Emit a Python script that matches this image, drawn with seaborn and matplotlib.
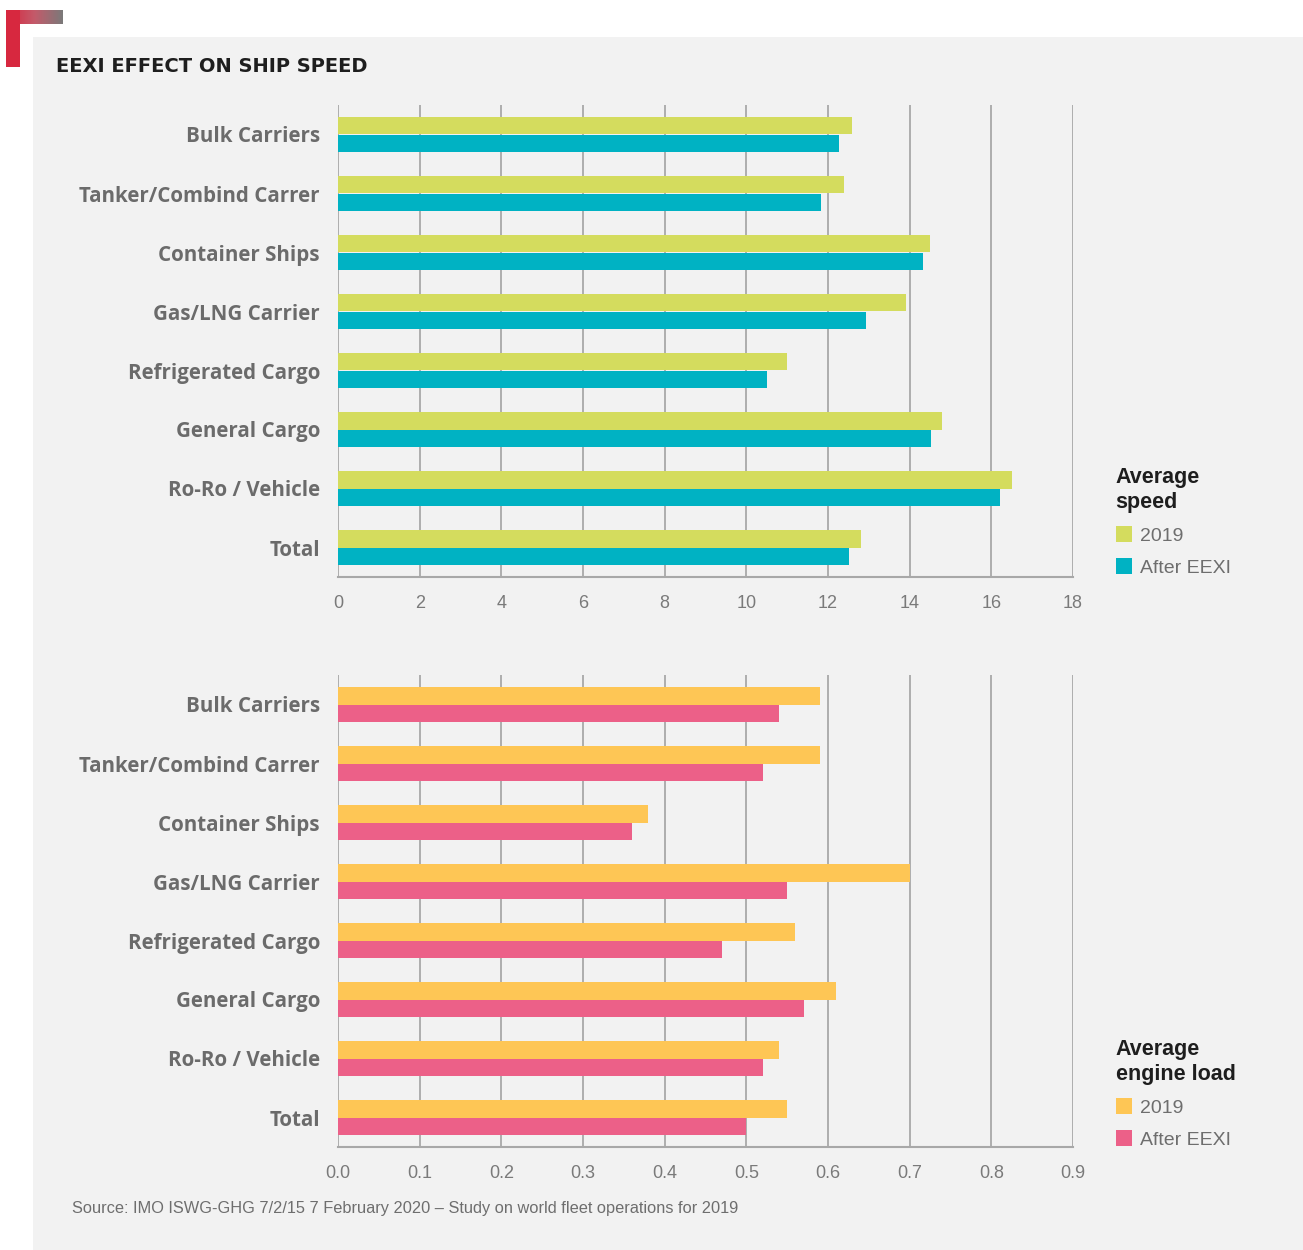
import matplotlib
matplotlib.use("Agg")
import matplotlib.pyplot as plt
import seaborn as sns
import pandas as pd
import numpy as np
from matplotlib.patches import Rectangle, Patch
from matplotlib.ticker import FormatStrFormatter
from matplotlib.colors import LinearSegmentedColormap

categories = ["Bulk Carriers", "Tanker/Combind Carrer", "Container Ships", "Gas/LNG Carrier",
              "Refrigerated Cargo", "General Cargo", "Ro-Ro / Vehicle", "Total"]
series = ["2019", "After EEXI"]
speed_2019 = [12.6, 12.4, 14.5, 13.9, 11.0, 14.8, 16.5, 12.8]
speed_after = [12.27, 11.83, 14.32, 12.93, 10.5, 14.52, 16.21, 12.52]
load_2019 = [0.59, 0.59, 0.38, 0.70, 0.56, 0.61, 0.54, 0.55]
load_after = [0.54, 0.52, 0.36, 0.55, 0.47, 0.57, 0.52, 0.50]
speed_ticks = [0, 2, 4, 6, 8, 10, 12, 14, 16, 18]
load_ticks = [0.0, 0.1, 0.2, 0.3, 0.4, 0.5, 0.6, 0.7, 0.8, 0.9]

title = "EEXI EFFECT ON SHIP SPEED"
source = "Source: IMO ISWG-GHG 7/2/15 7 February 2020 \u2013 Study on world fleet operations for 2019"

sns.set_theme(style="white")
plt.rcParams['font.family'] = ['Liberation Sans', 'DejaVu Sans']

W, H = 1303, 1250
fig = plt.figure(figsize=(W / 100, H / 100), dpi=100)
fig.patch.set_facecolor("white")


def px(x0, y0, x1, y1):
    return [x0 / W, 1 - y1 / H, (x1 - x0) / W, (y1 - y0) / H]


# gray panel
fig.patches.append(Rectangle((33 / W, 0), (W - 33) / W, (H - 37) / H,
                             transform=fig.transFigure, facecolor="#f2f2f2",
                             edgecolor="none", zorder=-10))
# corner mark
cax = fig.add_axes(px(6, 10, 63, 24))
grad = np.linspace(0, 1, 256)[None, :]
cmap = LinearSegmentedColormap.from_list("c", ["#d7263f", "#c45a6a", "#7a7a7a"])
cax.imshow(grad, aspect="auto", cmap=cmap)
cax.axis("off")
fig.patches.append(Rectangle((6 / W, 1 - 67 / H), 14 / W, 57 / H,
                             transform=fig.transFigure, facecolor="#d7283f",
                             edgecolor="none", zorder=1))

fig.text(56 / W, 1 - 67 / H, title, fontsize=14, fontweight="bold",
         family=["DejaVu Sans"], color="#1e1e1e", va="center", ha="left")

grid_c = "#a8a8a8"
label_c = "#6b6b6b"
tick_c = "#7a7a7a"


def make_panel(rect, v19, vaf, colors, ticks, xmax, fmt, leg_title, leg_y):
    ax = fig.add_axes(rect)
    df = pd.DataFrame({
        "category": categories * 2,
        "value": v19 + vaf,
        "series": [series[0]] * len(categories) + [series[1]] * len(categories),
    })
    sns.barplot(data=df, y="category", x="value", hue="series", orient="h",
                palette=colors, width=0.6, ax=ax, legend=False, saturation=1,
                linewidth=0)
    ax.set_facecolor("none")
    ax.set_xlim(0, xmax)
    ax.set_xticks(ticks)
    if fmt:
        ax.xaxis.set_major_formatter(FormatStrFormatter(fmt))
    ax.set_xlabel("")
    ax.set_ylabel("")
    ax.set_axisbelow(True)
    ax.grid(axis="x", color=grid_c, linewidth=1.3)
    ax.grid(axis="y", visible=False)
    for s in ["top", "right", "left"]:
        ax.spines[s].set_visible(False)
    ax.spines["bottom"].set_color(grid_c)
    ax.spines["bottom"].set_linewidth(1.5)
    ax.tick_params(axis="x", length=0, pad=13, labelsize=13, labelcolor=tick_c)
    ax.tick_params(axis="y", length=0, pad=13, labelsize=14.8, labelcolor=label_c)
    for t in ax.get_yticklabels():
        t.set_fontweight("bold")
        t.set_family(["Open Sans", "DejaVu Sans"])
    for t in ax.get_xticklabels():
        t.set_family(["Liberation Sans", "DejaVu Sans"])
    handles = [Patch(facecolor=c, edgecolor="none") for c in colors]
    leg = fig.legend(handles, series, loc="upper left",
                     bbox_to_anchor=(1098 / W, 1 - leg_y / H),
                     bbox_transform=fig.transFigure, frameon=False,
                     title=leg_title, fontsize=14, title_fontproperties={"weight": "bold", "size": 15.5},
                     handlelength=0.85, handleheight=0.85, handletextpad=0.4,
                     labelspacing=0.7)
    leg._legend_box.align = "left"
    for t in leg.get_texts():
        t.set_color("#6e6e6e")
    leg.get_title().set_color("#1e1e1e")
    return ax


make_panel(px(338, 105, 1073, 577), speed_2019, speed_after,
           ["#d4dc5e", "#00b2c3"], speed_ticks, 18, None, "Average\nspeed", 450)
make_panel(px(338, 675, 1073, 1147), load_2019, load_after,
           ["#fec655", "#ec6088"], load_ticks, 0.9, "%.1f", "Average\nengine load", 1022)

fig.text(72 / W, 1 - 1208 / H, source, fontsize=11.8, color="#6e6e6e",
         family=["Liberation Sans"], va="center", ha="left")

fig.savefig("out.png", dpi=100, facecolor="white")
